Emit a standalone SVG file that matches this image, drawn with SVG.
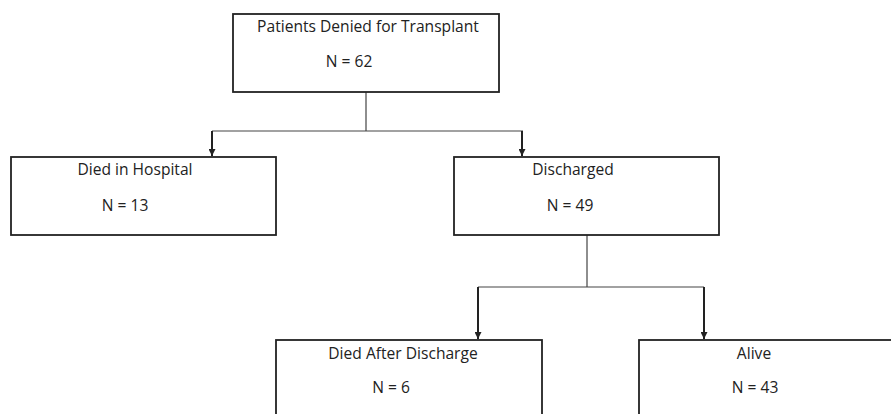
<svg xmlns="http://www.w3.org/2000/svg" width="891" height="414" viewBox="0 0 891 414">
<defs>
<style>
.box{fill:#fff;stroke:#222;stroke-width:1.8}
.t{font-family:"Open Sans","Liberation Sans",Arial,sans-serif;font-size:15.6px;fill:#222;text-anchor:middle}
.ln{fill:none;stroke:#444;stroke-width:1.2}
.ar{fill:none;stroke:#222;stroke-width:2}
</style>
<marker id="ah" viewBox="0 0 10 10" refX="10" refY="5" markerWidth="3.5" markerHeight="3.5" orient="auto" markerUnits="strokeWidth">
<path d="M0,0 L10,5 L0,10 Z" fill="#222"/>
</marker>
</defs>
<rect width="891" height="414" fill="#fff"/>
<g id="connectors">
<path class="ln" d="M366,92 V131 M212,131 H523 M587,235 V287 M478,287 H704"/>
<path class="ar" d="M212,131 V156" marker-end="url(#ah)"/>
<path class="ar" d="M522,131 V156" marker-end="url(#ah)"/>
<path class="ar" d="M478,287 V339" marker-end="url(#ah)"/>
<path class="ar" d="M704,287 V339" marker-end="url(#ah)"/>
</g>
<g id="n-root">
<rect class="box" x="233" y="14" width="266" height="78"/>
<text class="t" x="368" y="32">Patients Denied for Transplant</text>
<text class="t" x="349" y="67">N = 62</text>
</g>
<g id="n-died-hospital">
<rect class="box" x="11" y="157" width="265" height="78"/>
<text class="t" x="135" y="175">Died in Hospital</text>
<text class="t" x="125" y="211">N = 13</text>
</g>
<g id="n-discharged">
<rect class="box" x="454" y="157" width="265" height="78"/>
<text class="t" x="573" y="175">Discharged</text>
<text class="t" x="570" y="211">N = 49</text>
</g>
<g id="n-died-after">
<rect class="box" x="276" y="340" width="266" height="90"/>
<text class="t" x="403" y="359">Died After Discharge</text>
<text class="t" x="391" y="393">N = 6</text>
</g>
<g id="n-alive">
<rect class="box" x="639" y="340" width="266" height="90"/>
<text class="t" x="754" y="359">Alive</text>
<text class="t" x="755" y="393">N = 43</text>
</g>
</svg>
